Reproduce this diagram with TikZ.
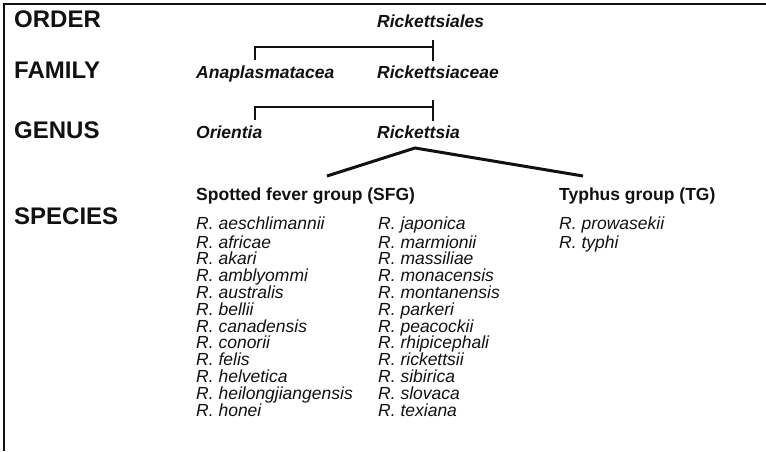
\documentclass[tikz,border=0pt]{standalone}
\usepackage{fontspec}
\setmainfont{Liberation Sans}
\usepackage{tikz}
\usetikzlibrary{calc,positioning}
\definecolor{ink}{HTML}{111111}
\newcommand{\rankfont}{\fontsize{24}{28}\selectfont\bfseries}
\newcommand{\taxonfont}{\fontsize{17.5}{20}\selectfont\bfseries\itshape}
\newcommand{\spfont}{\fontsize{17.5}{20}\selectfont\itshape}
\tikzset{
  rank/.style={anchor=base west,inner sep=0pt,text=ink,font=\rankfont},
  taxon/.style={anchor=base west,inner sep=0pt,text=ink,font=\taxonfont},
  grouplabel/.style={anchor=base west,inner sep=0pt,text=ink,
                     font=\fontsize{17.5}{20}\selectfont\bfseries},
  sp/.style={anchor=base west,inner sep=0pt,text=ink,font=\spfont},
  link/.style={draw=ink,line width=2.5pt},
  fan/.style={draw=ink,line width=3pt}
}

\begin{document}
\begin{tikzpicture}[x=1pt,y=-1pt,line cap=butt,line join=miter]
  \useasboundingbox (0,0) rectangle (766,451);
  % frame
  \draw[ink,line width=1.6pt] (766,4) -- (4,4) -- (4,451);

  % ranks
  \node[rank] (order)   at (14,27)  {ORDER};
  \node[rank] (family)  at (14,78)  {FAMILY};
  \node[rank] (genus)   at (14,138) {GENUS};
  \node[rank] (species) at (14,224) {SPECIES};

  % taxa
  \node[taxon] (rickettsiales)  at (377,27)  {Rickettsiales};
  \node[taxon] (anaplasma)      at (196,78)  {Anaplasmatacea};
  \node[taxon] (rickettsiaceae) at (377,78)  {Rickettsiaceae};
  \node[taxon] (orientia)       at (196,138) {Orientia};
  \node[taxon] (rickettsia)     at (377,138) {Rickettsia};

  % brackets
  \coordinate (famL) at (255,60);
  \coordinate (famT) at (433,40);
  \coordinate (famB) at (433,61);
  \draw[link] (famL) |- (433,47);
  \draw[link] (famT) -- (famB);
  \coordinate (genL) at (255,120);
  \coordinate (genT) at (433,100);
  \coordinate (genB) at (433,121);
  \draw[link] (genL) |- (433,107);
  \draw[link] (genT) -- (genB);

  % groups
  \node[grouplabel] (sfg) at (196,200) {Spotted fever group (SFG)};
  \node[grouplabel] (tg)  at (559,200) {Typhus group (TG)};
  \coordinate (apex)   at (415,148);
  \coordinate (sfgtop) at (327,176);
  \coordinate (tgtop)  at (583,176);
  \draw[fan] (sfgtop) -- (apex) -- (tgtop);

  % species lists
  \foreach \name [count=\i] in {aeschlimannii,africae,akari,amblyommi,
      australis,bellii,canadensis,conorii,felis,helvetica,
      heilongjiangensis,honei}{
    \pgfmathsetmacro\yy{\i==1 ? 229 : 248+(\i-2)*16.8}
    \node[sp] (sfgA\i) at (196,\yy) {R. \name};
  }
  \foreach \name [count=\i] in {japonica,marmionii,massiliae,monacensis,
      montanensis,parkeri,peacockii,rhipicephali,rickettsii,sibirica,
      slovaca,texiana}{
    \pgfmathsetmacro\yy{\i==1 ? 229 : 248+(\i-2)*16.8}
    \node[sp] (sfgB\i) at (378,\yy) {R. \name};
  }
  \foreach \name [count=\i] in {prowasekii,typhi}{
    \pgfmathsetmacro\yy{\i==1 ? 229 : 248+(\i-2)*16.8}
    \node[sp] (tg\i) at (559,\yy) {R. \name};
  }
\end{tikzpicture}
\end{document}
